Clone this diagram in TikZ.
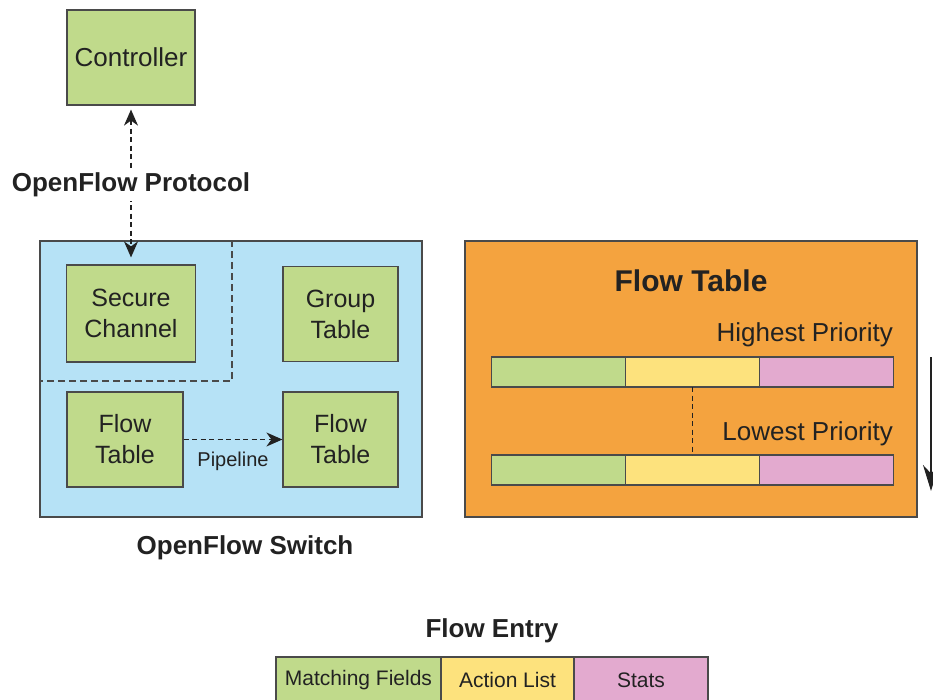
\documentclass[tikz,border=0pt]{standalone}
\usepackage{fontspec}
\setmainfont{Liberation Sans}
\usetikzlibrary{positioning,arrows.meta}
\definecolor{leaf}{HTML}{C0DA8B}
\definecolor{sky}{HTML}{B6E2F6}
\definecolor{amber}{HTML}{F4A33F}
\definecolor{butter}{HTML}{FDE27D}
\definecolor{rose}{HTML}{E3AACF}
\definecolor{edge}{HTML}{4A4A4A}
\definecolor{ink}{HTML}{222222}

\begin{document}
\begin{tikzpicture}
	[x=1pt, y=-1pt, line width=1.2pt, draw=edge, text=ink,
	>={Stealth[length=16pt, width=14pt, inset=5pt]},
	main/.style = {draw=edge, fill=leaf, align=center, inner sep=0pt,
		minimum width=116pt, minimum height=95pt, font=\fontsize{25}{31}\selectfont},
	frame/.style = {draw=edge, inner sep=0pt, minimum width=#1, minimum height=276pt},
	cell/.style = {draw=edge, fill=#1, inner sep=0pt, outer sep=0pt, minimum width=134pt, minimum height=30pt},
	entry/.style = {draw=edge, fill=#1, inner sep=0pt, outer sep=0pt, minimum height=46pt, font=\fontsize{21}{25}\selectfont},
	title/.style = {font=\bfseries\fontsize{26}{30}\selectfont},
	lbl/.style = {font=\fontsize{26}{30}\selectfont, inner sep=0pt},
	link/.style = {draw=ink, line width=1.2pt, dash pattern=on 5pt off 3.5pt},
	sep/.style = {draw=edge, line width=1.4pt, dash pattern=on 7pt off 4pt}]
	\useasboundingbox (0,0) rectangle (933,700);

	\node[frame=382pt, fill=sky] (switch) at (231,379) {};
	\node[frame=452pt, fill=amber] (table) at (691,379) {};

	\node[main, minimum width=128pt, font=\fontsize{26}{31}\selectfont] (ctrl) at (131,57.5) {Controller};
	\node[main, minimum width=129pt, minimum height=97pt] (secure) at (131,313.5) {Secure\\Channel};
	\node[main, minimum width=115pt] (group) at (340.5,314) {Group\\Table};
	\node[main] (flowa) at (125,439.5) {Flow\\Table};
	\node[main, minimum width=115pt] (flowb) at (340.5,439.5) {Flow\\Table};

	\coordinate (cut) at (232,381);
	\draw[sep] (switch.north -| cut) |- (switch.west |- cut);

	\draw[link, <->, shorten <=4pt, shorten >=7pt]
		(ctrl.south) -- node[fill=white, inner sep=4pt, title] {OpenFlow Protocol} (secure.north);
	\draw[link, ->] (flowa.east) -- (flowb.west);
	\node[font=\fontsize{20}{24}\selectfont] (pipe) at (233,461) {Pipeline};
	\node[title] (swlabel) at (245,548) {OpenFlow Switch};

	\node[font=\bfseries\fontsize{30}{36}\selectfont] (ftitle) at (691,281) {Flow Table};
	\node[cell=leaf] (ma1) at (558.5,372) {};
	\node[cell=butter, right=0pt of ma1] (ac1) {};
	\node[cell=rose, right=0pt of ac1] (st1) {};
	\node[cell=leaf] (ma2) at (558.5,470) {};
	\node[cell=butter, right=0pt of ma2] (ac2) {};
	\node[cell=rose, right=0pt of ac2] (st2) {};
	\node[lbl, anchor=east] (hi) at (st1.east |- 0,335) {Highest Priority};
	\node[lbl, anchor=east] (lo) at (st2.east |- 0,434) {Lowest Priority};
	\draw[link] (ac1.south) -- (ac2.north);

	\coordinate (top) at (931,357);
	\coordinate (bottom) at (931,491);
	\draw[draw=ink, line width=1.6pt, -{Stealth[length=26pt, width=16pt]}] (top) -- (bottom);

	\node[title] (elabel) at (492,631) {Flow Entry};
	\node[entry=leaf, minimum width=165pt] (match) at (358.5,680) {Matching Fields};
	\node[entry=butter, minimum width=133pt, right=0pt of match] (action) {Action List};
	\node[entry=rose, minimum width=134pt, right=0pt of action] (stats) {Stats};
\end{tikzpicture}
\end{document}
